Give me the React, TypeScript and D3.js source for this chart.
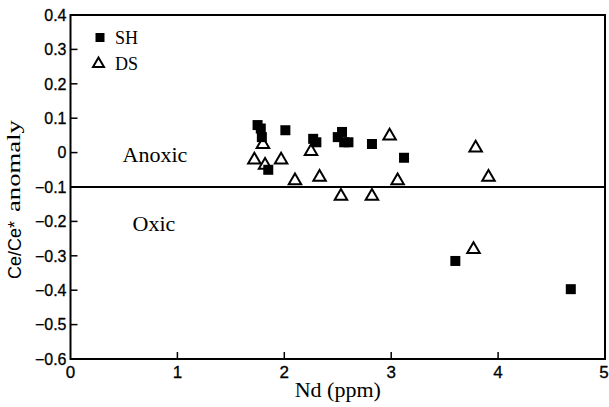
import React from "react";
import * as d3 from "d3";

const xTicks = [0, 1, 2, 3, 4, 5];
const yTicks = [0.4, 0.3, 0.2, 0.1, 0, -0.1, -0.2, -0.3, -0.4, -0.5, -0.6];

const shX = [1.75, 1.78, 1.79, 1.85, 2.01, 2.27, 2.3, 2.5, 2.54, 2.56, 2.6, 2.82, 3.12, 3.6, 4.68];
const shY = [0.08, 0.07, 0.045, -0.05, 0.065, 0.04, 0.03, 0.045, 0.06, 0.03, 0.03, 0.025, -0.015, -0.315, -0.397];

const dsX = [1.72, 1.8, 1.97, 1.82, 2.1, 2.25, 2.33, 2.53, 2.82, 2.985, 3.06, 3.79, 3.91, 3.77];
const dsY = [-0.02, 0.025, -0.02, -0.035, -0.08, 0.005, -0.07, -0.125, -0.125, 0.05, -0.08, 0.015, -0.07, -0.28];

const boundary = -0.1;

export default function App() {
  const left = 70.5, right = 605, top = 15, bottom = 359;
  const x = d3.scaleLinear().domain([0, 5]).range([left, right]);
  const y = d3.scaleLinear().domain([-0.6, 0.4]).range([bottom, top]);
  const sans = "'Liberation Sans', Arial, sans-serif";
  const serif = "'Liberation Serif', 'Times New Roman', serif";
  const sq = 10;
  const tri = (cx: number, cy: number, s = 12.5) => {
    const h = s * 0.866;
    return `M${cx},${cy - h * 0.62} L${cx + s / 2},${cy + h * 0.38} L${cx - s / 2},${cy + h * 0.38} Z`;
  };
  return (
    <svg width={609} height={407} style={{ display: "block", position: "absolute", left: 0, top: 0 }}>
      <rect x={0} y={0} width={609} height={407} fill="#fff" />
      <rect x={left} y={top} width={right - left} height={bottom - top} fill="none" stroke="#000" strokeWidth={2} />
      {yTicks.map((t) => (
        <g key={"y" + t}>
          {t < 0.4 && t > -0.6 && Math.abs(t - boundary) > 1e-9 && (
            <line x1={left} x2={left + 7} y1={y(t)} y2={y(t)} stroke="#000" strokeWidth={1.5} />
          )}
          <text x={left - 4} y={y(t)} dy="0.36em" textAnchor="end" fontFamily={sans} fontSize={16} fill="#000" stroke="#000" strokeWidth={0.3}>
            {t === 0 ? "0" : d3.format(".1f")(t)}
          </text>
        </g>
      ))}
      {xTicks.map((t) => (
        <g key={"x" + t}>
          {t > 0 && t < 5 && (
            <line x1={x(t)} x2={x(t)} y1={bottom} y2={bottom - 7} stroke="#000" strokeWidth={1.5} />
          )}
          <text x={t === 5 ? x(t) - 1 : x(t)} y={bottom + 19} textAnchor="middle" fontFamily={sans} fontSize={17} fill="#000" stroke="#000" strokeWidth={0.3}>
            {t}
          </text>
        </g>
      ))}
      <line x1={left} x2={right} y1={y(boundary)} y2={y(boundary)} stroke="#000" strokeWidth={2} />
      <text x={(left + right) / 2} y={397} textAnchor="middle" fontFamily={serif} fontSize={22} fill="#000">
        Nd (ppm)
      </text>
      <text transform={`translate(21,250) rotate(-90)`} textAnchor="middle" fontFamily={sans} fontSize={18} fill="#000">
        Ce/Ce*
      </text>
      <text transform={`translate(20,212) rotate(-90)`} textAnchor="start" fontFamily={serif} fontSize={19} fill="#000" textLength={92} lengthAdjust="spacingAndGlyphs">
        anomaly
      </text>
      <text x={155} y={162} textAnchor="middle" fontFamily={serif} fontSize={22} fill="#000">Anoxic</text>
      <text x={154} y={231} textAnchor="middle" fontFamily={serif} fontSize={22} fill="#000">Oxic</text>
      <rect x={100 - 4.5} y={37.5 - 4.5} width={9} height={9} fill="#000" />
      <text x={115} y={43.5} fontFamily={serif} fontSize={18} fill="#000">SH</text>
      <path d={tri(98.5, 63.5, 11)} fill="#fff" stroke="#000" strokeWidth={2} />
      <text x={115} y={69.5} fontFamily={serif} fontSize={18} fill="#000">DS</text>
      {dsX.map((v, i) => (
        <path key={"d" + i} d={tri(x(v), y(dsY[i]))} fill="#fff" stroke="#000" strokeWidth={2} />
      ))}
      {shX.map((v, i) => (
        <rect key={"s" + i} x={x(v) - sq / 2} y={y(shY[i]) - sq / 2} width={sq} height={sq} fill="#000" />
      ))}
    </svg>
  );
}
